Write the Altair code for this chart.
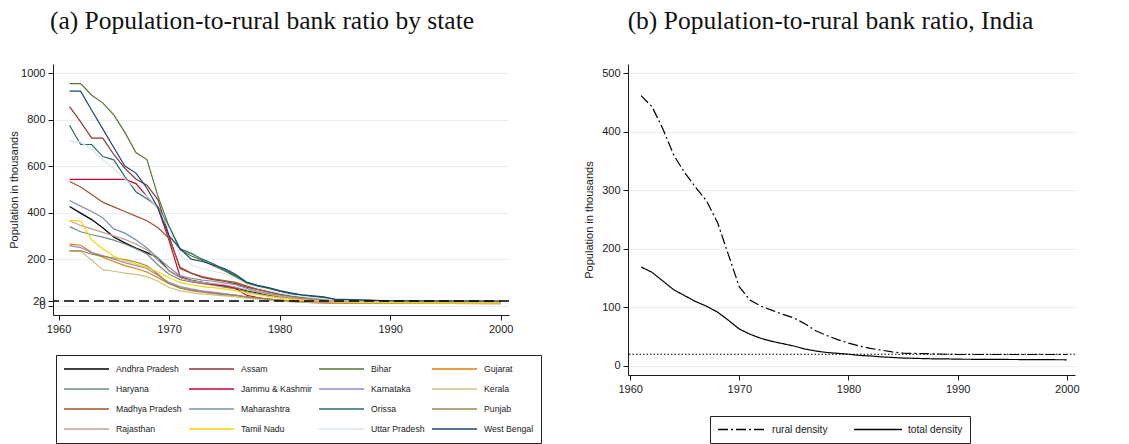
import altair as alt
import pandas as pd

# ---------------- Panel (a): by state ----------------
years_a = list(range(1961, 1986)) + [1990, 1995, 2000]

states = ["Andhra Pradesh", "Assam", "Bihar", "Gujarat",
          "Haryana", "Jammu & Kashmir", "Karnataka", "Kerala",
          "Madhya Pradesh", "Maharashtra", "Orissa", "Punjab",
          "Rajasthan", "Tamil Nadu", "Uttar Pradesh", "West Bengal"]

state_colors = ["#000000", "#90353b", "#55752f", "#e37e00",
                "#6e8e84", "#c10534", "#938dd2", "#cac27e",
                "#a0522d", "#7b92a8", "#2d6d66", "#9c8847",
                "#bfa19c", "#ffd200", "#d9e6eb", "#1a476f"]

andhra = [426, 398, 370, 335, 295, 270, 248, 228, 205, 150, 122, 108, 100, 92, 85, 78, 65, 55, 45, 38, 32, 28, 24, 21, 18, 15, 14, 14]
assam = [856, 790, 720, 720, 650, 590, 545, 518, 455, 300, 160, 140, 122, 112, 105, 95, 80, 70, 60, 50, 42, 36, 32, 28, 22, 18, 17, 17]
bihar = [955, 955, 905, 872, 820, 745, 658, 628, 470, 340, 240, 215, 195, 172, 150, 125, 98, 85, 75, 62, 52, 46, 40, 35, 28, 21, 20, 19]
gujarat = [265, 260, 230, 208, 190, 172, 160, 145, 120, 95, 78, 68, 60, 55, 50, 45, 38, 32, 28, 24, 21, 18, 16, 15, 13, 12, 11, 11]
haryana = [340, 318, 305, 295, 282, 265, 245, 222, 175, 135, 112, 102, 95, 88, 80, 72, 60, 50, 42, 35, 30, 25, 22, 19, 16, 14, 13, 13]
jammu = [543, 543, 543, 543, 543, 543, 525, 470, 420, 280, 125, 110, 100, 92, 85, 75, 45, 35, 28, 22, 18, 15, 13, 12, 11, 10, 10, 9]
karnataka = [258, 250, 228, 215, 200, 185, 172, 160, 130, 100, 82, 72, 64, 58, 52, 46, 38, 32, 27, 23, 20, 18, 16, 14, 13, 12, 11, 11]
kerala = [236, 235, 195, 155, 148, 140, 135, 125, 105, 78, 64, 56, 50, 46, 42, 38, 32, 28, 24, 20, 17, 15, 14, 13, 12, 11, 10, 10]
madhya = [534, 510, 478, 445, 425, 405, 385, 365, 335, 290, 165, 140, 125, 115, 108, 100, 85, 70, 58, 48, 40, 35, 30, 27, 22, 18, 16, 15]
maharashtra = [452, 428, 405, 378, 330, 312, 283, 248, 205, 165, 128, 118, 110, 105, 98, 90, 75, 62, 52, 45, 38, 32, 28, 24, 20, 17, 16, 16]
orissa = [775, 693, 693, 641, 627, 555, 490, 460, 425, 340, 245, 225, 200, 180, 155, 130, 100, 85, 75, 62, 52, 45, 40, 33, 25, 20, 19, 18]
punjab = [236, 236, 222, 212, 205, 198, 188, 172, 135, 95, 75, 65, 58, 52, 48, 44, 38, 33, 28, 24, 21, 19, 17, 15, 14, 12, 12, 12]
rajasthan = [365, 345, 330, 315, 300, 285, 265, 240, 195, 150, 120, 108, 100, 95, 90, 80, 68, 58, 48, 40, 34, 28, 24, 21, 18, 15, 14, 14]
tamilnadu = [366, 364, 283, 245, 212, 192, 180, 165, 145, 120, 100, 90, 82, 78, 72, 65, 55, 48, 40, 34, 28, 24, 21, 18, 15, 13, 12, 12]
uttar = [706, 704, 670, 627, 590, 545, 505, 470, 420, 330, 220, 175, 160, 148, 138, 120, 92, 78, 66, 55, 46, 40, 35, 30, 24, 19, 18, 18]
westbengal = [922, 922, 840, 760, 680, 600, 570, 505, 420, 300, 245, 200, 190, 175, 160, 135, 102, 88, 78, 65, 55, 47, 42, 38, 27, 21, 20, 20]

state_series = [andhra, assam, bihar, gujarat, haryana, jammu, karnataka, kerala,
                madhya, maharashtra, orissa, punjab, rajasthan, tamilnadu, uttar, westbengal]

threshold = 20

# ---------------- Panel (b): India ----------------
years_b = list(range(1961, 1991)) + [1995, 2000]
rural_density = [462, 443, 405, 360, 330, 305, 282, 245, 190, 135,
                 112, 102, 95, 88, 82, 72, 60, 52, 45, 39,
                 34, 30, 27, 24, 22, 21.5, 21, 20.5, 20, 19.5,
                 19.5, 19.5]
total_density = [169, 160, 145, 130, 120, 110, 102, 92, 78, 63,
                 54, 47, 42, 38, 34, 29, 25.5, 23, 21.5, 20,
                 18, 17, 15.5, 14.5, 13.5, 13, 12.5, 12, 12, 11.5,
                 11, 10.5]
series_b = ["rural density", "total density"]

rows = []
for s, vals in zip(states, state_series):
    for y, v in zip(years_a, vals):
        rows.append({"state": s, "year": y, "value": v})
df_a = pd.DataFrame(rows)

rows_b = []
for y, v in zip(years_b, rural_density):
    rows_b.append({"series": series_b[0], "year": y, "value": v})
for y, v in zip(years_b, total_density):
    rows_b.append({"series": series_b[1], "year": y, "value": v})
df_b = pd.DataFrame(rows_b)

df_ref = pd.DataFrame({"value": [threshold]})

# legend fills column by column: order the domain so it reads row by row (4 columns)
n_cols = 4
legend_order = [states[r * n_cols + c] for c in range(n_cols) for r in range(len(states) // n_cols)]
legend_colors = [state_colors[states.index(s)] for s in legend_order]

SANS = "Liberation Sans"
SERIF = "Liberation Serif"
INK = "#1a1a1a"

axis_style = dict(labelFont=SANS, labelFontSize=11, labelColor=INK,
                  titleFont=SANS, titleFontSize=11, titleColor=INK,
                  titleFontWeight="normal", domainColor=INK, tickColor=INK,
                  tickSize=5, labelPadding=3, domainWidth=1, format="d")

grid_color = "#e6eef1"

x_a = alt.X("year:Q",
            scale=alt.Scale(domain=[1959.5, 2000.75], nice=False, zero=False),
            axis=alt.Axis(values=[1960, 1970, 1980, 1990, 2000],
                          title=None, grid=False, **axis_style))
y_a = alt.Y("value:Q",
            scale=alt.Scale(domain=[-40, 1039], nice=False, zero=False),
            axis=alt.Axis(values=[0, 20, 200, 400, 600, 800, 1000],
                          title="Population in thousands", grid=True,
                          gridColor=grid_color, gridWidth=1, labelOverlap=False,
                          titlePadding=1, **axis_style))

lines_a = alt.Chart(df_a).mark_line(strokeWidth=1.2).encode(
    x=x_a,
    y=y_a,
    color=alt.Color("state:N",
                    scale=alt.Scale(domain=legend_order, range=legend_colors),
                    legend=alt.Legend(title=None, orient="none", legendX=3, legendY=291,
                                      columns=n_cols, symbolType="stroke", symbolSize=2025,
                                      symbolStrokeWidth=1.3, clipHeight=14,
                                      rowPadding=6, columnPadding=6, labelOffset=6,
                                      labelFont=SANS, labelFontSize=8.7, labelColor=INK,
                                      labelLimit=300, gridAlign="each",
                                      strokeColor="#222222", fillColor="white",
                                      padding=7)),
    detail="state:N",
)

ref_a = alt.Chart(df_ref).mark_rule(color="black", strokeWidth=1.4,
                                    strokeDash=[10, 5]).encode(y=alt.Y("value:Q"))

panel_a = alt.layer(lines_a, ref_a).properties(
    width=456, height=251,
    title=alt.TitleParams("(a) Population-to-rural bank ratio by state",
                          font=SERIF, fontSize=25.5, fontWeight="normal", color="#111111",
                          anchor="middle", dx=-19, offset=10, baseline="alphabetic",
                          frame="group"),
)

x_b = alt.X("year:Q",
            scale=alt.Scale(domain=[1959.8, 2000.75], nice=False, zero=False),
            axis=alt.Axis(values=[1960, 1970, 1980, 1990, 2000],
                          title=None, grid=False, **axis_style))
y_b = alt.Y("value:Q",
            scale=alt.Scale(domain=[-15.5, 516], nice=False, zero=False),
            axis=alt.Axis(values=[0, 100, 200, 300, 400, 500],
                          title="Population in thousands", grid=True,
                          gridColor=grid_color, gridWidth=1,
                          titlePadding=7, **axis_style))

# legends of the concatenated panels are laid out from the first panel's origin
lines_b = alt.Chart(df_b).mark_line(strokeWidth=1.2, color="black").encode(
    x=x_b,
    y=y_b,
    strokeDash=alt.StrokeDash("series:N",
                              scale=alt.Scale(domain=series_b, range=[[10, 3, 2, 3], [1, 0]]),
                              legend=alt.Legend(title=None, orient="none", legendX=657, legendY=352,
                                                columns=2, symbolType="stroke", symbolSize=2304,
                                                symbolStrokeColor="black", symbolStrokeWidth=1.3,
                                                clipHeight=13, padding=7, columnPadding=25,
                                                labelOffset=5, labelFont=SANS, labelFontSize=10.2,
                                                labelColor=INK, strokeColor="#222222",
                                                fillColor="white")),
)

ref_b = alt.Chart(df_ref).mark_rule(color="black", strokeWidth=1.2,
                                    strokeDash=[1.5, 2]).encode(y=alt.Y("value:Q"))

panel_b = alt.layer(ref_b, lines_b).properties(
    width=447, height=311,
    title=alt.TitleParams("(b) Population-to-rural bank ratio, India",
                          font=SERIF, fontSize=25.5, fontWeight="normal", color="#111111",
                          anchor="middle", dx=-21, offset=10, baseline="alphabetic",
                          frame="group"),
)

chart = alt.hconcat(panel_a, panel_b, spacing=119, bounds="flush").resolve_scale(
    x="independent", y="independent"
).properties(
    padding={"left": 0, "top": 0, "right": 0, "bottom": 0},
    background="white",
).configure_view(stroke=None)

chart.save("out.html", embed_options={"renderer": "svg", "actions": False})
